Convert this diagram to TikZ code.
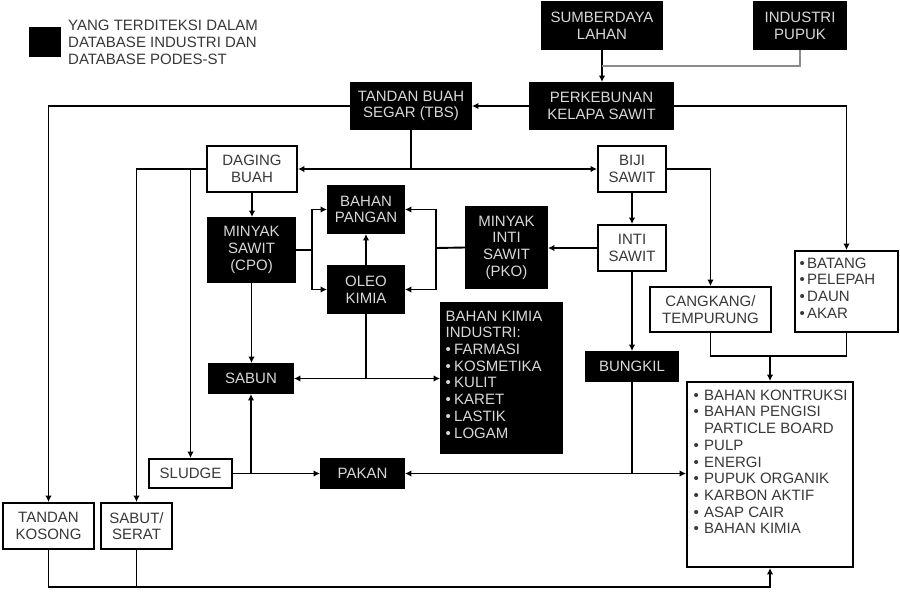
\documentclass[tikz,border=0pt]{standalone}
\usepackage{fontspec}
\setmainfont{Liberation Sans}
\usetikzlibrary{arrows.meta,calc}
\definecolor{btext}{HTML}{D8D8D8}
\definecolor{wtext}{HTML}{383838}
\definecolor{glinec}{HTML}{8C8C8C}
\newcommand{\mybul}[1]{\makebox[#1][l]{•}}
\begin{document}
\begin{tikzpicture}[x=1pt,y=-1pt,
 font=\fontsize{15}{16.7}\selectfont,
 base/.style={draw=black, line width=1.9pt, inner sep=0pt, align=center},
 bbox/.style={base, fill=black, text=btext},
 wbox/.style={base, fill=white, text=wtext},
 listtxt/.style={anchor=north west, inner sep=0pt, align=left},
 conn/.style={line width=1.9pt, draw=black},
 arr/.style={conn, -{Latex[length=6.5pt,width=6.5pt]}},
 darr/.style={conn, {Latex[length=6.5pt,width=6.5pt]}-{Latex[length=6.5pt,width=6.5pt]}},
 gconn/.style={line width=1.5pt, draw=glinec},
]
\useasboundingbox (0,0) rectangle (900,600);
\fill[white] (0,0) rectangle (900,600);

% legend
\node[fill=black, minimum width=32pt, minimum height=30pt, inner sep=0pt] (leg) at (45,42) {};
\node[anchor=west, align=left, inner sep=0pt, text=wtext, font=\fontsize{15}{17}\selectfont] (legtxt) at (68,42) {YANG TERDITEKSI DALAM\\DATABASE INDUSTRI DAN\\DATABASE PODES-ST};

% boxes
\node[bbox, minimum width=120pt, minimum height=47pt] (sumber) at (602,25.5) {SUMBERDAYA\\LAHAN};
\node[bbox, minimum width=92pt, minimum height=47pt] (pupuk) at (800,25.5) {INDUSTRI\\PUPUK};
\node[bbox, minimum width=143pt, minimum height=46pt] (perkeb) at (601.5,106) {PERKEBUNAN\\KELAPA SAWIT};
\node[bbox, minimum width=120pt, minimum height=46pt] (tbs) at (411,106) {TANDAN BUAH\\SEGAR (TBS)};
\node[wbox, minimum width=90pt, minimum height=46pt] (daging) at (252,169) {DAGING\\BUAH};
\node[wbox, minimum width=68pt, minimum height=46pt] (biji) at (632,169) {BIJI\\SAWIT};
\node[wbox, minimum width=68pt, minimum height=46pt] (inti) at (632,248) {INTI\\SAWIT};
\node[bbox, minimum width=81pt, minimum height=81pt] (pko) at (506.5,247.5) {MINYAK\\INTI\\SAWIT\\(PKO)};
\node[bbox, minimum width=87pt, minimum height=64pt] (cpo) at (251.5,250) {MINYAK\\SAWIT\\(CPO)};
\node[bbox, minimum width=76pt, minimum height=47pt] (pangan) at (366,209.5) {BAHAN\\PANGAN};
\node[bbox, minimum width=76pt, minimum height=47pt] (oleo) at (366,289.5) {OLEO\\KIMIA};
\node[bbox, minimum width=121pt, minimum height=150pt] (kimia) at (501.5,378) {};
\node[listtxt, text=btext] (kimiatxt) at (445.5,310.6) {BAHAN KIMIA\\INDUSTRI:\\\mybul{8.5pt}FARMASI\\\mybul{8.5pt}KOSMETIKA\\\mybul{8.5pt}KULIT\\\mybul{8.5pt}KARET\\\mybul{8.5pt}LASTIK\\\mybul{8.5pt}LOGAM};
\node[bbox, minimum width=84pt, minimum height=29pt] (sabun) at (251,378.5) {SABUN};
\node[bbox, minimum width=92pt, minimum height=29pt] (bungkil) at (632,366.5) {BUNGKIL};
\node[wbox, minimum width=121pt, minimum height=45pt] (cangkang) at (710.5,309.5) {CANGKANG/\\TEMPURUNG};
\node[wbox, minimum width=103pt, minimum height=81pt] (batang) at (846.5,291.5) {};
\node[listtxt, text=wtext] (batangtxt) at (799.5,257.6) {\mybul{7.5pt}BATANG\\\mybul{7.5pt}PELEPAH\\\mybul{7.5pt}DAUN\\\mybul{7.5pt}AKAR};
\node[wbox, minimum width=166pt, minimum height=185pt] (big) at (770,474.5) {};
\node[listtxt, text=wtext] (bigtxt) at (693.5,389.6) {\mybul{10.5pt}BAHAN KONTRUKSI\\\mybul{10.5pt}BAHAN PENGISI\\\hspace*{10.5pt}PARTICLE BOARD\\\mybul{10.5pt}PULP\\\mybul{10.5pt}ENERGI\\\mybul{10.5pt}PUPUK ORGANIK\\\mybul{10.5pt}KARBON AKTIF\\\mybul{10.5pt}ASAP CAIR\\\mybul{10.5pt}BAHAN KIMIA};
\node[wbox, minimum width=83pt, minimum height=29pt] (sludge) at (190.5,473.5) {SLUDGE};
\node[bbox, minimum width=83pt, minimum height=29pt] (pakan) at (362.5,473.5) {PAKAN};
\node[wbox, minimum width=91pt, minimum height=46pt] (tankos) at (48.5,526) {TANDAN\\KOSONG};
\node[wbox, minimum width=71pt, minimum height=46pt] (sabut) at (136.5,526) {SABUT/\\SERAT};

% junction coordinates
\coordinate (jtop) at ($(sumber.south)!0.5!(perkeb.north)$);
\coordinate (jcpo) at (312,250);
\coordinate (jpko) at (436,248);
\coordinate (joleo) at (oleo.south |- sabun.east);
\coordinate (jcang) at (770,356);
\coordinate (jbot) at (770,587);

% connectors
\draw[arr] (sumber.south) -- (sumber.south |- perkeb.north);
\draw[gconn] (pupuk.south) |- (jtop);
\draw[arr] (perkeb.west) -- (tbs.east);
\draw[arr] (perkeb.east) -| (batang.north);
\draw[arr] (tbs.west) -| (tankos.north);
\draw[conn] (tbs.south) -- (tbs.south |- daging.east);
\draw[darr] (daging.east) -- (biji.west);
\draw[arr] (biji.east) -| (cangkang.north);
\draw[arr] (biji.south) -- (inti.north);
\draw[arr] (inti.west) -- (inti.west -| pko.east);
\draw[arr] (inti.south) -- (bungkil.north);
\draw[darr] (pakan.east) -- (pakan.east -| big.west);
\draw[conn] (bungkil.south) -- (bungkil.south |- pakan.east);
\draw[conn] (cangkang.south) |- (jcang);
\draw[conn] (batang.south) |- (jcang);
\draw[arr] (jcang) -- (big.north);
\draw[arr] (tankos.south) |- (jbot) -- (big.south);
\draw[conn] (sabut.south) -- (sabut.south |- jbot);
\draw[arr] (daging.west) -| (sabut.north);
\draw[arr] (daging.west -| sludge.north) -- (sludge.north);
\draw[arr] (sludge.east) -- (pakan.west);
\draw[arr] (sludge.east -| sabun.south) -- (sabun.south);
\draw[arr] (daging.south) -- (daging.south |- cpo.north);
\draw[arr] (cpo.south) -- (cpo.south |- sabun.north);
\draw[conn] (cpo.east) -- (jcpo);
\draw[arr] (jcpo) |- (pangan.west);
\draw[arr] (jcpo) |- (oleo.west);
\draw[arr] (oleo.north) -- (pangan.south);
\draw[conn] (pko.west) -- (jpko);
\draw[arr] (jpko) |- (pangan.east);
\draw[arr] (jpko) |- (oleo.east);
\draw[conn] (oleo.south) -- (joleo);
\draw[arr] (joleo) -- (sabun.east);
\draw[arr] (joleo) -- (joleo -| kimia.west);
\end{tikzpicture}
\end{document}
